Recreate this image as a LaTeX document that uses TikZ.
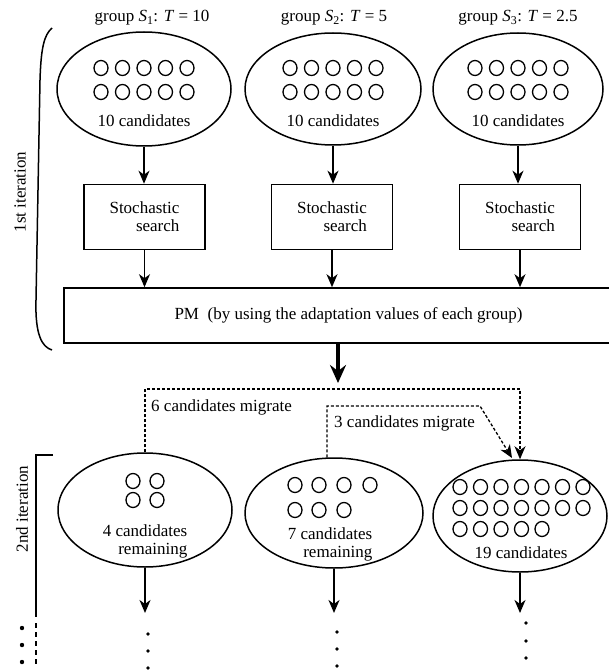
\documentclass[tikz,border=0pt]{standalone}
\usepackage{fontspec}
\setmainfont{Liberation Serif}
\newfontfamily\tnr{Liberation Serif}
\usetikzlibrary{arrows.meta,shapes.geometric}
\newcommand{\grpl}[3]{group \textit{#1}\textsubscript{#2}: \textit{T} = #3}
\begin{document}
\begin{tikzpicture}[x=1pt,y=-1pt,
  every node/.style={font=\tnr\fontsize{17}{18}\selectfont,inner sep=0pt},
  grp/.style={draw,ellipse,line width=1.5pt},
  cand/.style={line width=1.3pt},
  stochbox/.style={draw,rectangle,line width=1.6pt,minimum width=121pt,minimum height=65pt,align=right},
  arr/.style={line width=1.6pt,-{Stealth[length=13pt,width=11pt,inset=4pt]}},
  bigarr/.style={line width=3.2pt,-{Stealth[length=18pt,width=16pt,inset=6pt]}},
  mig/.style={line width=1.3pt,dash pattern=on 3pt off 2pt,-{Stealth[length=13pt,width=11pt,inset=4pt]}},
  brk/.style={line width=1.5pt}
]
\useasboundingbox (0,0) rectangle (608,671);
\fill[white] (0,0) rectangle (608,671);

% titles
\node (g1) at (152,18) {\grpl{S}{1}{10}};
\node (g2) at (334,18) {\grpl{S}{2}{5}};
\node (g3) at (518,18) {\grpl{S}{3}{2.5}};

% first row ellipses
\node[grp,minimum width=174pt,minimum height=114pt] (e11) at (144,89) {};
\node[grp,minimum width=176pt,minimum height=112pt] (e12) at (333,89) {};
\node[grp,minimum width=170pt,minimum height=112pt] (e13) at (518,89) {};
\foreach \cx in {144,333,518}{
  \foreach \i in {-2,...,2}{
    \draw[cand] ({\cx+21.5*\i},68) ellipse [x radius=7, y radius=7.5];
    \draw[cand] ({\cx+21.5*\i},92) ellipse [x radius=7, y radius=7.5];
  }
}
\node (t11) at (144,121) {10 candidates};
\node (t12) at (333,121) {10 candidates};
\node (t13) at (518,121) {10 candidates};

% stochastic search boxes
\node[stochbox] (b1) at (144.5,217) {Stochastic\\search};
\node[stochbox] (b2) at (332,217) {Stochastic\\search};
\node[stochbox] (b3) at (520,217) {Stochastic\\search};

\draw[arr] (e11.south) -- (e11.south |- b1.north);
\draw[arr] (e12.south) -- (e12.south |- b2.north);
\draw[arr] (e13.south) -- (e13.south |- b3.north);

% PM box
\node[draw,rectangle,line width=1.6pt,minimum width=569pt,minimum height=55pt] (pm) at (348.5,315.5)
  {PM\ \ (by using the adaptation values of each group)};
\draw[arr] (b1.south) -- (b1.south |- pm.north);
\draw[arr] (b2.south) -- (b2.south |- pm.north);
\draw[arr] (b3.south) -- (b3.south |- pm.north);

% big arrow
\coordinate (ta) at (338,383);
\draw[bigarr] (pm.south -| ta) -- (ta);

% bracket 1st iteration
\draw[brk] (52,28) .. controls (44,35) and (41,48) .. (40,80) -- (36,300) .. controls (35,335) and (42,347) .. (52,350);
\node[rotate=90] (it1) at (20,192) {1st iteration};

% second row ellipses
\node[grp,minimum width=174pt,minimum height=114pt] (e21) at (145,510) {};
\node[grp,minimum width=178pt,minimum height=110pt] (e22) at (334,513) {};
\node[grp,minimum width=174pt,minimum height=112pt] (e23) at (520,516) {};

\foreach \p in {(133,481),(157,481),(133,500),(157,500)}
  \draw[cand] \p ellipse [x radius=7, y radius=7.5];
\foreach \p in {(295,485),(319,485),(344,485),(370,485),(295,510),(319,510),(344,510)}
  \draw[cand] \p ellipse [x radius=7, y radius=7.5];
\foreach \k in {0,...,6}{
  \draw[cand] ({460+20.5*\k},487) ellipse [x radius=7, y radius=7.5];
  \draw[cand] ({460+20.5*\k},508) ellipse [x radius=7, y radius=7.5];
}
\foreach \k in {0,...,4}
  \draw[cand] ({460+20.5*\k},529) ellipse [x radius=7, y radius=7.5];

\node[align=right] (t21) at (145,541) {4 candidates\\remaining};
\node[align=right] (t22) at (330,544) {7 candidates\\remaining};
\node (t23) at (521,553) {19 candidates};

% migrations
\coordinate (m1) at (145,389);
\coordinate (m1r) at (520,389);
\draw[mig] (e21.north) -- (m1) -- (m1r) -- (e23.north);
\coordinate (m2) at (327,406);
\coordinate (m2r) at (480,406);
\coordinate (m2e) at (512,458);
\draw[mig] ([xshift=-7pt]e22.north) -- (m2) -- (m2r) -- (m2e);
\node[anchor=west] (l1) at (151,407) {6 candidates migrate};
\node[anchor=west] (l2) at (334,423) {3 candidates migrate};

% downward arrows
\coordinate (d1) at (145,613);
\coordinate (d2) at (334,613);
\coordinate (d3) at (520,613);
\draw[arr] (e21.south) -- (d1);
\draw[arr] (e22.south) -- (d2);
\draw[arr] (e23.south) -- (d3);

% continuation dots
\foreach \p in {(148,634),(148,651),(148,668),(337,632),(337,649),(337,666),(526,623),(526,641),(526,658)}
  \fill \p circle (1.8);

% bracket 2nd iteration
\draw[brk,line width=1.7pt] (53,455) -- (36,455) -- (36,617);
\draw[line width=1.7pt,dash pattern=on 5pt off 4pt] (36,623) -- (36,667);
\node[rotate=90] (it2) at (22,509) {2nd iteration};
\foreach \p in {(22,628),(22,645),(22,662)}
  \fill \p circle (2.2);
\end{tikzpicture}
\end{document}
